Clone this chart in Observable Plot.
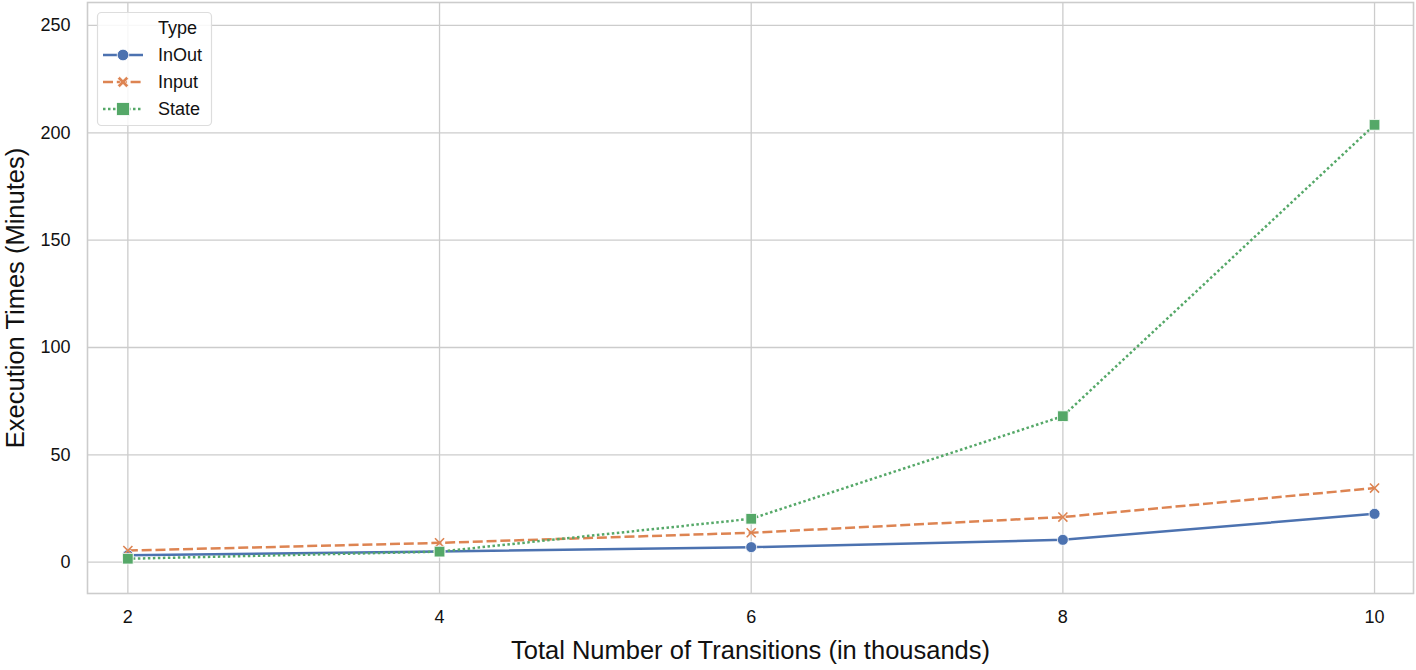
<!DOCTYPE html>
<html><head><meta charset="utf-8">
<script src="https://cdn.jsdelivr.net/npm/d3@7"></script>
<script src="https://cdn.jsdelivr.net/npm/@observablehq/plot@0.6"></script>
<style>
body{margin:0;background:#fff;}
#wrap{position:relative;width:1416px;height:670px;}
</style></head><body><div id="wrap"></div>
<script>
const transitions = [2, 4, 6, 8, 10];
const inOut = [3.2, 5.0, 7.0, 10.4, 22.5];
const input = [5.4, 9.0, 13.7, 21.0, 34.5];
const state = [1.6, 4.9, 20.2, 68.0, 203.7];
const types = ["InOut", "Input", "State"];
const colors = ["#4c72b0", "#dd8452", "#55a868"];
const xTicks = [2, 4, 6, 8, 10];
const yTicks = [0, 50, 100, 150, 200, 250];
const xLabel = "Total Number of Transitions (in thousands)";
const yLabel = "Execution Times (Minutes)";
const legendTitle = "Type";

const series = [inOut, input, state];
const rows = [];
types.forEach((t, i) => transitions.forEach((x, j) => rows.push({type: t, x, y: series[i][j]})));
const byType = t => rows.filter(d => d.type === t);
const FONT = "'Liberation Sans', Arial, sans-serif";
const dashes = [null, "10,3.8", "2.5,2.5"];
const TXT = "#111";

const W = 1416, H = 670, ML = 87, MR = 3, MT = 2, MB = 77;

const chart = Plot.plot({
  width: W, height: H,
  marginLeft: ML, marginRight: MR, marginTop: MT, marginBottom: MB,
  style: {fontFamily: FONT, background: "#fff", color: TXT},
  x: {domain: [1.741, 10.25], ticks: xTicks},
  y: {domain: [-14.6, 260.7], ticks: yTicks},
  marks: [
    Plot.ruleX(xTicks, {stroke: "#cccccc", strokeWidth: 1.3}),
    Plot.ruleY(yTicks, {stroke: "#cccccc", strokeWidth: 1.3}),
    Plot.frame({stroke: "#cccccc", strokeWidth: 1.6}),
    ...types.map((t, i) => Plot.line(byType(t), {x: "x", y: "y", stroke: colors[i], strokeWidth: 2.5, strokeDasharray: dashes[i], strokeLinecap: "butt", strokeLinejoin: "round"})),
    Plot.dot(byType("InOut"), {x: "x", y: "y", r: 5.5, fill: colors[0], stroke: "#fff", strokeWidth: 0.8}),
    Plot.dot(byType("Input"), {x: "x", y: "y", r: 4.2, symbol: "times", stroke: colors[1], strokeWidth: 1.6}),
    Plot.dot(byType("State"), {x: "x", y: "y", r: 6, symbol: "square", fill: colors[2], stroke: "#fff", strokeWidth: 0.8}),
    Plot.axisX(xTicks, {tickSize: 0, tickPadding: 17, fontSize: 18, label: null, fill: TXT, tickFormat: d3.format("d")}),
    Plot.axisY(yTicks, {tickSize: 0, tickPadding: 17, fontSize: 18, label: null, fill: TXT, tickFormat: d3.format("d")}),
    Plot.text([xLabel], {frameAnchor: "bottom", dy: 65, fontSize: 25.5, fill: TXT}),
    Plot.text([yLabel], {frameAnchor: "left", dx: -72, rotate: -90, textAnchor: "middle", fontSize: 25.5, fill: TXT})
  ]
});
document.getElementById("wrap").appendChild(chart);

// legend inside the svg
const svg = d3.select(chart);
const g = svg.append("g").attr("font-family", FONT).attr("font-size", 18).attr("fill", TXT).attr("text-anchor", "start");
g.append("rect").attr("x", 97.5).attr("y", 12.5).attr("width", 114).attr("height", 113)
  .attr("rx", 4).attr("fill", "rgba(255,255,255,0.85)").attr("stroke", "#dddddd").attr("stroke-width", 1.2);
const rowY = [28, 55, 82, 109];
g.append("text").attr("x", 158).attr("y", rowY[0]).attr("dy", "0.35em").text(legendTitle);
types.forEach((t, i) => {
  const y = rowY[i + 1];
  g.append("line").attr("x1", 103).attr("x2", 143).attr("y1", y).attr("y2", y)
    .attr("stroke", colors[i]).attr("stroke-width", 2.5).attr("stroke-dasharray", dashes[i]);
  if (i === 0) g.append("circle").attr("cx", 123).attr("cy", y).attr("r", 5.8).attr("fill", colors[0]).attr("stroke", "#fff").attr("stroke-width", 0.8);
  if (i === 1) g.append("path").attr("transform", `translate(123,${y})`)
    .attr("fill", colors[1]).attr("stroke", "#fff").attr("stroke-width", 0.5)
    .attr("d", "M-5.5,-3.3L-3.3,-5.5L0,-2.2L3.3,-5.5L5.5,-3.3L2.2,0L5.5,3.3L3.3,5.5L0,2.2L-3.3,5.5L-5.5,3.3L-2.2,0Z");
  if (i === 2) g.append("rect").attr("x", 116.5).attr("y", y - 6.5).attr("width", 13).attr("height", 13).attr("fill", colors[2]).attr("stroke", "#fff").attr("stroke-width", 0.8);
  g.append("text").attr("x", 158).attr("y", y).attr("dy", "0.35em").text(t);
});
</script></body></html>
